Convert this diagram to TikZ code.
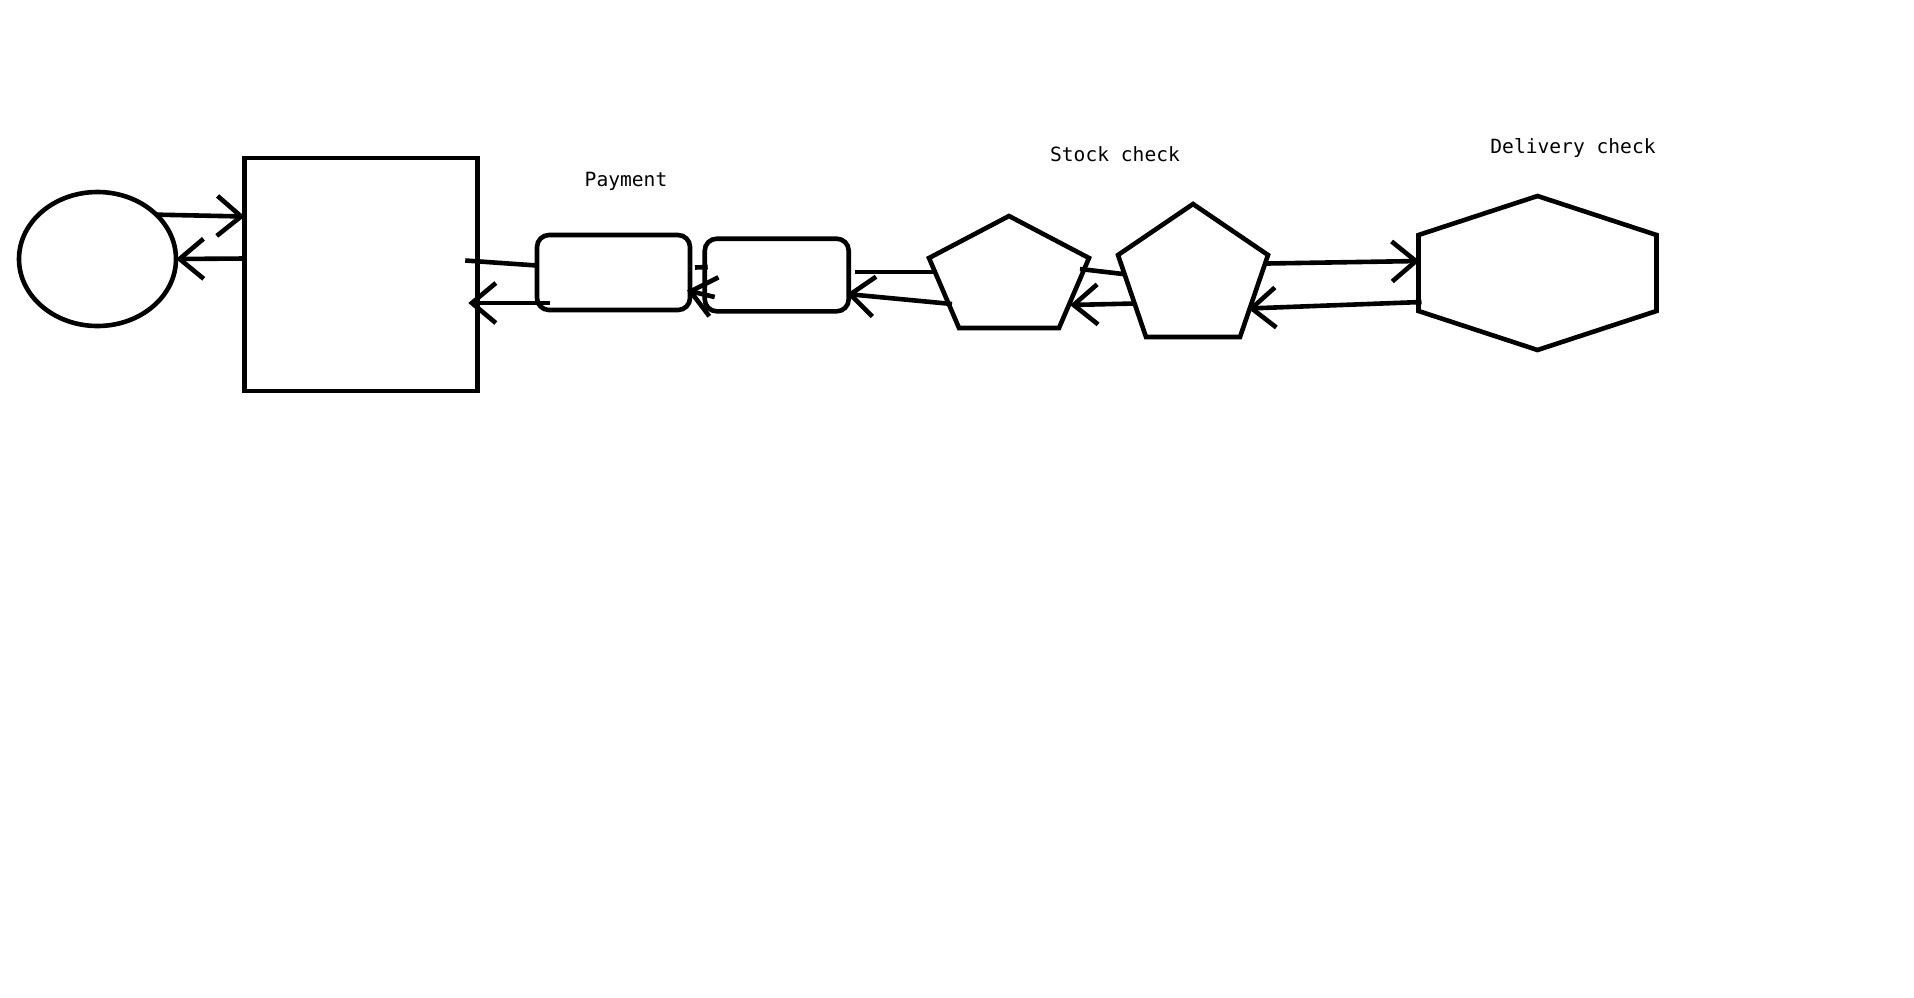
\documentclass[tikz,border=0pt]{standalone}
\usepackage{fontspec}
\newfontfamily\labelfont{DejaVu Sans Mono}
\usetikzlibrary{arrows.meta, calc, shapes.geometric}

\begin{document}
\begin{tikzpicture}[
  x=0.5pt, y=-0.5pt,
  every node/.style={outer sep=0pt},
  pen/.style={line width=2.3pt},
  blob/.style={draw, ellipse, pen, minimum width=78.5pt, minimum height=67pt},
  block/.style={draw, rectangle, pen, minimum width=116.25pt, minimum height=116.5pt},
  pill/.style={draw, rectangle, pen, rounded corners=6pt},
  frame/.style={inner sep=0pt},
  lbl/.style={font=\labelfont\fontsize{9.8pt}{12pt}\selectfont, inner sep=0pt},
  arrow/.style={pen, -{Straight Barb[length=12pt, width=20pt]}},
  link/.style={pen}
]
\useasboundingbox (0,0) rectangle (1914,997);

% nodes
\node[blob] (user) at (97.5,259) {};
\node[block] (shop) at (361,274.5) {};
\node[pill, minimum width=76.5pt, minimum height=37.5pt] (pay1) at (613.5,272.5) {};
\node[pill, minimum width=72pt, minimum height=36.3pt] (pay2) at (776.7,275) {};
\node[frame, minimum width=80pt, minimum height=56pt] (stock1) at (1009,272) {};
\node[frame, minimum width=75pt, minimum height=66.5pt] (stock2) at (1193,270.5) {};
\node[frame, minimum width=119pt, minimum height=77pt] (delivery) at (1537.5,273) {};

% pentagons and hexagon
\draw[pen] (stock1.north) -- ($(stock1.north east)+(0,42)$) -- ($(stock1.south east)+(-30,0)$)
  -- ($(stock1.south west)+(30,0)$) -- ($(stock1.north west)+(0,42)$) -- cycle;
\draw[pen] (stock2.north) -- ($(stock2.north east)+(0,51)$) -- ($(stock2.south east)+(-28,0)$)
  -- ($(stock2.south west)+(28,0)$) -- ($(stock2.north west)+(0,51)$) -- cycle;
\draw[pen] (delivery.north) -- ($(delivery.north east)+(0,39)$) -- ($(delivery.south east)+(0,-39)$)
  -- (delivery.south) -- ($(delivery.south west)+(0,-39)$) -- ($(delivery.north west)+(0,39)$) -- cycle;

% labels
\node[lbl] (paylbl) at (626,181) {Payment};
\node[lbl] (stocklbl) at (1115,154) {Stock check};
\node[lbl] (deliverylbl) at (1573,148) {Delivery check};

% connectors
\draw[arrow] (user.37) -- ($(shop.west)+(0,-58)$);
\draw[arrow] ($(shop.west)+(0,-16)$) -- (user.east);
\draw[link] ($(shop.east)+(-12,-14)$) -- ($(pay1.west)+(0,-7)$);
\draw[arrow] ($(pay1.south west)+(13,-7)$) -- ($(shop.east)+(-9,28.5)$);
\draw[link] ($(pay1.east)+(5,-5)$) -- ($(pay2.west)+(3,-8)$);
\draw[arrow] ($(pay2.west)+(10,22)$) -- ($(pay1.east)+(-3,18)$);
\draw[link] ($(pay2.east)+(6,-3)$) -- ($(stock1.west)+(5,0)$);
\draw[arrow] ($(stock1.west)+(23,32)$) -- ($(pay2.east)+(-2,19)$);
\draw[link] ($(stock1.east)+(-9,-3)$) -- ($(stock2.west)+(5,3.5)$);
\draw[arrow] ($(stock2.west)+(17,33)$) -- ($(stock1.east)+(-19,33)$);
\draw[arrow] ($(stock2.east)+(-1,-7)$) -- ($(delivery.west)+(1,-12)$);
\draw[arrow] ($(delivery.west)+(3,29)$) -- ($(stock2.east)+(-20,38)$);

\end{tikzpicture}
\end{document}
